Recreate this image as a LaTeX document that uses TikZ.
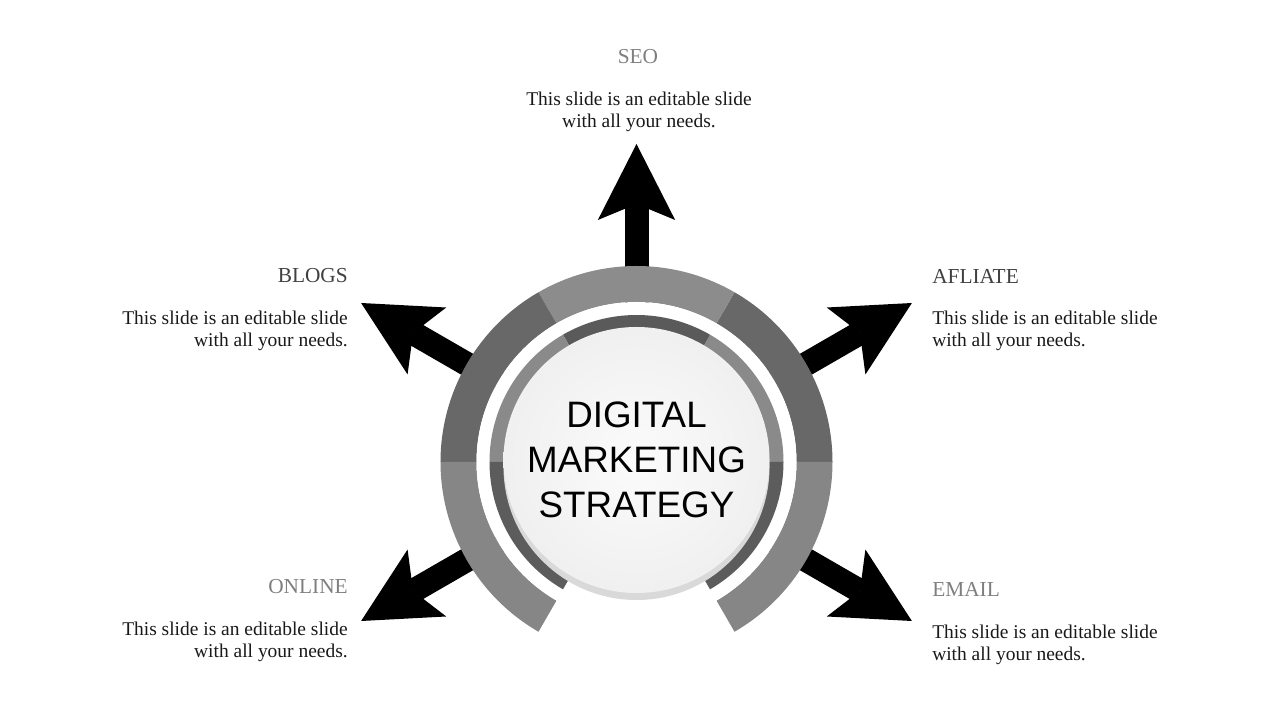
\documentclass[tikz,border=0pt]{standalone}
\usepackage{fontspec}
\setmainfont{Liberation Serif}
\newfontfamily\arialfont{Liberation Sans}
\usepackage{tikz}
\usetikzlibrary{arrows.meta}
\definecolor{outerTop}{HTML}{8C8C8C}
\definecolor{outerSide}{HTML}{686868}
\definecolor{outerLow}{HTML}{868686}
\definecolor{innerTop}{HTML}{5A5A5A}
\definecolor{innerSide}{HTML}{8A8A8A}
\definecolor{innerLow}{HTML}{5C5C5C}
\definecolor{headGray}{HTML}{7F7F7F}
\definecolor{headDark}{HTML}{404040}
\begin{document}
\begin{tikzpicture}[x=0.75pt,y=0.75pt,>={Stealth[length=57pt,width=58pt,inset=12pt,line width=0pt]},spoke/.style={->,line width=18pt,black},head/.style={inner sep=0pt,font=\fontsize{16}{19}\selectfont},body/.style={inner sep=0pt,text=black!90,font=\fontsize{14.6}{16.5}\selectfont},core/.style={circle,minimum size=266pt*0.75,inner sep=0pt,shading=radial,inner color=gray!3,outer color=gray!12,align=center,font=\arialfont\fontsize{27.6}{33.5}\selectfont}]
    \useasboundingbox (-636.5,-258) rectangle (643.5,462);
    \coordinate (hub) at (0,0);
    \foreach \a/\n in {90/seo,150/blogs,30/afliate,210/online,330/email}
      \coordinate (tip-\n) at (\a:318);
    \foreach \n in {seo,blogs,afliate,online,email}
      \draw[spoke] (hub) -- (tip-\n);
    \foreach \c/\s/\e in {outerSide/0/60,outerTop/60/120,outerSide/120/180,outerLow/180/240,outerLow/300/360}
      \fill[\c] (\s:196) arc[start angle=\s,end angle=\e,radius=196] -- (\e:160) arc[start angle=\e,end angle=\s,radius=160] -- cycle;
    \fill[white] (hub) circle[radius=160];
    \foreach \c/\s/\e in {innerSide/0/60,innerTop/60/120,innerSide/120/180,innerLow/180/240,innerLow/300/360}
      \fill[\c] (\s:147) arc[start angle=\s,end angle=\e,radius=147] -- (\e:132) arc[start angle=\e,end angle=\s,radius=132] -- cycle;
    \fill[gray!30] (0,-5) circle[radius=133];
    \node[core] (center) at (0,2) {DIGITAL\\MARKETING\\STRATEGY};
    \node[head,text=headGray] (seo) at (1.5,405) {SEO};
    \node[body,align=center] (seo text) at (2.5,350) {This slide is an editable slide\\with all your needs.};
    \node[head,text=headDark,anchor=east] (blogs) at (-288.5,186) {BLOGS};
    \node[body,align=right,anchor=east] (blogs text) at (-288.5,131) {This slide is an editable slide\\with all your needs.};
    \node[head,text=headDark,anchor=west] (afliate) at (295.5,186) {AFLIATE};
    \node[body,align=left,anchor=west] (afliate text) at (295.5,131) {This slide is an editable slide\\with all your needs.};
    \node[head,text=headGray,anchor=east] (online) at (-288.5,-125) {ONLINE};
    \node[body,align=right,anchor=east] (online text) at (-288.5,-180) {This slide is an editable slide\\with all your needs.};
    \node[head,text=headGray,anchor=west] (email) at (295.5,-127) {EMAIL};
    \node[body,align=left,anchor=west] (email text) at (295.5,-183) {This slide is an editable slide\\with all your needs.};
  \end{tikzpicture}
\end{document}
